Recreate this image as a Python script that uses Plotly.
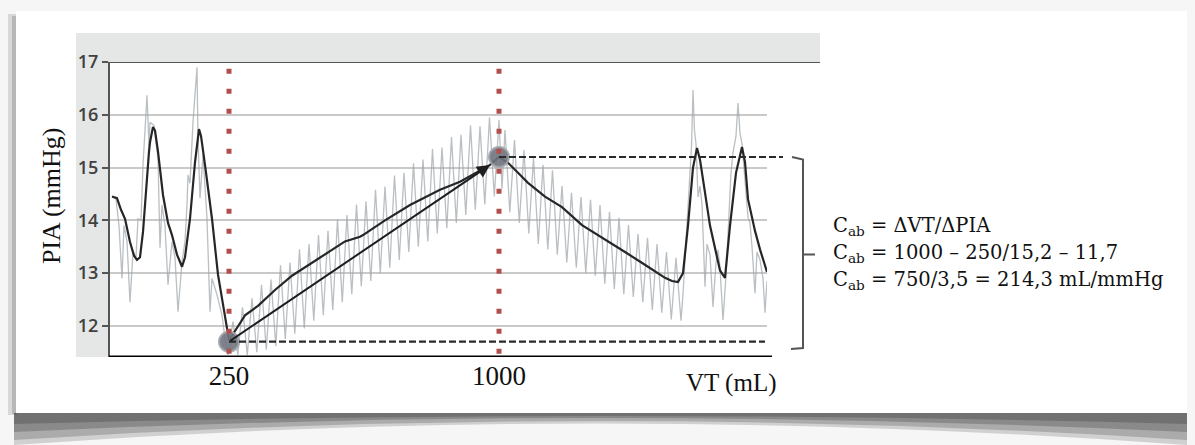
import plotly.graph_objects as go

W, H = 1195, 445

# ---------------- data ----------------
# two marked inspirations: time position, tidal volume label, plateau PIA
event_t = [11.9, 38.9]
event_vt = ["250", "1000"]
event_pia = [11.7, 15.2]
arrow_tip = [38.0, 15.05]

pia_ticks = [12, 13, 14, 15, 16, 17]

# smoothed (mean) PIA trace
mean_t = [0.2, 0.7, 1.1, 1.5, 2.0, 2.4, 2.7, 3.0, 3.3, 3.6, 3.9, 4.0, 4.3, 4.5, 4.8,
          5.3, 5.8, 6.2, 6.7, 7.2, 7.5, 8.0, 8.5, 8.9, 9.1, 9.5, 10.2, 10.8, 11.5, 11.9,
          13.0, 13.5, 14.8, 16.5, 18.2, 21.0, 23.5, 25.0, 25.3, 27.5, 30.0, 33.0, 35.0,
          36.8, 38.0, 38.9,
          39.8, 40.8, 41.8, 43.5, 45.2, 47.2, 49.0, 51.5, 53.8, 55.5, 56.2, 56.8, 57.3,
          57.8, 58.3, 58.7, 59.0, 60.0, 61.0, 61.5, 62.0, 62.6, 63.2, 63.5, 63.8, 64.5,
          65.0, 65.7]
mean_p = [14.45, 14.42, 14.2, 14.03, 13.59, 13.33, 13.25, 13.30, 13.78, 14.6, 15.3, 15.48,
          15.77, 15.7, 15.3, 14.48, 13.95, 13.72, 13.35, 13.12, 13.3, 14.03, 15.1, 15.73,
          15.6, 15.05, 14.03, 12.97, 12.2, 11.73,
          12.05, 12.2, 12.38, 12.68, 12.95, 13.3, 13.6, 13.69, 13.72, 14.0, 14.29, 14.58,
          14.73, 14.92, 15.05, 15.2,
          15.09, 14.9, 14.71, 14.45, 14.25, 13.91, 13.7, 13.40, 13.12, 12.91, 12.85, 12.83,
          13.0, 13.9, 15.0, 15.37, 15.15, 13.9, 13.05, 12.91, 13.9, 14.9, 15.39, 15.1,
          14.4, 13.8, 13.45, 13.02]

# raw PIA signal (grey)
raw_t = [0.2, 0.6, 0.9, 1.2, 1.4, 1.7, 2.0, 2.3, 2.6, 2.8, 3.1, 3.3, 3.7, 3.9, 4.0, 4.4,
         4.8, 5.0, 5.2, 5.5, 5.8, 6.2, 6.5, 6.8, 7.2, 7.5, 7.7, 7.8, 8.0, 8.3, 8.7, 8.8,
         9.0, 9.3, 9.7, 10.0, 10.2, 10.7, 11.2, 11.5, 11.8,
         12.3, 12.78, 13.25, 13.73, 14.2, 14.68, 15.15, 15.63, 16.1, 16.58, 17.05, 17.53,
         18.0, 18.48, 18.95, 19.43, 19.9, 20.38, 20.85, 21.33, 21.8, 22.28, 22.75, 23.23,
         23.7, 24.18, 24.65, 25.13, 25.6, 26.08, 26.55, 27.03, 27.5, 27.98, 28.45, 28.93,
         29.4, 29.88, 30.35, 30.83, 31.3, 31.78, 32.25, 32.73, 33.2, 33.68, 34.15, 34.63,
         35.1, 35.58, 36.05, 36.53, 37.0, 37.48, 37.95, 38.43,
         38.9, 39.2,
         39.5, 39.98, 40.45, 40.93, 41.4, 41.88, 42.35, 42.83, 43.3, 43.78, 44.25, 44.73,
         45.2, 45.68, 46.15, 46.63, 47.1, 47.58, 48.05, 48.53, 49.0, 49.48, 49.95, 50.43,
         50.9, 51.38, 51.85, 52.33, 52.8, 53.28, 53.75, 54.23, 54.7, 55.18, 55.65, 56.13,
         56.6, 57.1,
         57.3, 57.6, 57.8, 58.0, 58.15, 58.3, 58.45, 58.6, 58.8, 59.0, 59.2, 59.5, 59.7,
         60.0, 60.3, 60.6, 60.8, 61.0, 61.3, 61.6, 61.9, 62.1, 62.3, 62.6, 62.8, 63.0,
         63.2, 63.4, 63.6, 63.8, 64.0, 64.2, 64.5, 64.7, 65.0, 65.3, 65.5, 65.7]
raw_p = [14.45, 14.4, 13.9, 12.9, 13.9, 13.6, 12.45, 13.4, 13.3, 14.03, 14.0, 15.05, 16.37,
         15.4, 15.86, 15.8, 15.18, 13.48, 14.29, 13.9, 12.78, 13.59, 13.3, 12.27, 13.21,
         13.6, 14.29, 14.86, 14.7, 15.86, 16.9, 15.56, 14.42, 15.24, 14.03, 12.27, 12.9,
         12.59, 12.2, 11.77, 11.45,
         12.08, 11.45, 12.35, 11.45, 12.52, 11.5, 12.78, 11.55, 12.88, 11.62, 13.15, 11.75,
         13.2, 11.85, 13.45, 11.95, 13.55, 12.1, 13.72, 12.2, 13.8, 12.3, 14.02, 12.45,
         14.1, 12.6, 14.3, 12.75, 14.36, 12.85, 14.58, 13.0, 14.64, 13.1, 14.85, 13.25,
         14.9, 13.4, 15.08, 13.5, 15.15, 13.6, 15.35, 13.75, 15.38, 13.85, 15.58, 13.95,
         15.62, 14.1, 15.8, 14.2, 15.78, 14.3, 15.95, 14.45,
         15.9, 14.6,
         15.71, 14.15, 15.52, 13.95, 15.33, 13.75, 15.18, 13.55, 15.05, 13.45, 14.95, 13.35,
         14.65, 13.2, 14.52, 13.1, 14.44, 13.0, 14.39, 12.95, 14.29, 12.8, 14.16, 12.7,
         14.05, 12.6, 13.91, 12.55, 13.74, 12.45, 13.67, 12.3, 13.55, 12.25, 13.40, 12.12,
         13.29, 12.1,
         12.6, 13.6, 14.33, 14.9, 15.4, 16.47, 15.7, 15.45, 14.44, 14.65, 14.3, 12.74, 13.55,
         13.35, 12.36, 13.2, 13.44, 13.1, 12.11, 12.95, 14.1, 14.9, 15.28, 15.6, 16.22,
         15.65, 15.45, 15.0, 14.4, 14.06, 13.95, 13.5, 12.62, 13.4, 13.25, 12.9, 12.25, 12.85]

formula_lines = [
    "C<sub>ab</sub> = ΔVT/ΔPIA",
    "C<sub>ab</sub> = 1000 – 250/15,2 – 11,7",
    "C<sub>ab</sub> = 750/3,5 = 214,3 mL/mmHg",
]

# ---------------- geometry helpers ----------------
XR = [0.0, 65.7]
YR = [11.41, 17.0]
XD = [110 / W, 767 / W]
YD = [1 - 357 / H, 1 - 62 / H]


def px(x):
    return x / W


def py(y):
    return 1 - y / H


def xt(t):
    return XD[0] + (t - XR[0]) / (XR[1] - XR[0]) * (XD[1] - XD[0])


fig = go.Figure()

fig.add_trace(go.Scatter(x=raw_t, y=raw_p, mode="lines",
                         line=dict(color="rgba(160,166,172,0.72)", width=1.3),
                         hoverinfo="skip", showlegend=False))
fig.add_trace(go.Scatter(x=mean_t, y=mean_p, mode="lines",
                         line=dict(color="#262626", width=2.2),
                         hoverinfo="skip", showlegend=False))
fig.add_trace(go.Scatter(x=event_t, y=event_pia, mode="markers",
                         marker=dict(size=20, color="rgba(112,117,126,0.9)",
                                     line=dict(color="rgba(160,165,172,0.9)", width=2)),
                         hoverinfo="skip", showlegend=False))
for t in event_t:
    fig.add_trace(go.Scatter(x=[t, t], y=[16.87, YR[0]], mode="lines",
                             line=dict(color="#b24f4c", width=5, dash="5px,15px"),
                             hoverinfo="skip", showlegend=False))

shapes = []
# card background and shadows
shapes.append(dict(type="rect", xref="paper", yref="paper", x0=px(8), x1=px(17),
                   y0=py(415), y1=py(14), fillcolor="rgba(0,0,0,0.12)", line_width=0,
                   layer="below"))
shapes.append(dict(type="rect", xref="paper", yref="paper", x0=px(12), x1=px(16),
                   y0=py(414), y1=py(16), fillcolor="rgba(0,0,0,0.15)", line_width=0,
                   layer="below"))
shapes.append(dict(type="rect", xref="paper", yref="paper", x0=px(16), x1=px(1187),
                   y0=py(413), y1=py(11), fillcolor="white", line_width=0, layer="below"))
for ybot, ymid, op in [(445, 402, 0.18), (440, 402, 0.22), (432, 404, 0.25), (424, 408, 0.25)]:
    path = (f"M {px(14)},{py(413)} L {px(1187)},{py(413)} L {px(1187)},{py(ybot)} "
            f"Q {px(600)},{py(ymid)} {px(14)},{py(ybot)} Z")
    shapes.append(dict(type="path", xref="paper", yref="paper", path=path,
                       fillcolor=f"rgba(40,40,40,{op})", line_width=0, layer="below"))
# grey panel frame
shapes.append(dict(type="rect", xref="paper", yref="paper", x0=px(76), x1=px(820),
                   y0=py(62), y1=py(33), fillcolor="#e5e6e6", line_width=0, layer="below"))
shapes.append(dict(type="rect", xref="paper", yref="paper", x0=px(76), x1=px(110),
                   y0=py(357), y1=py(62), fillcolor="#e5e6e6", line_width=0, layer="below"))
# top border line and bottom axis line
shapes.append(dict(type="line", xref="paper", yref="y", x0=px(110), x1=px(820),
                   y0=YR[1], y1=YR[1], line=dict(color="#555555", width=2)))
shapes.append(dict(type="line", xref="paper", yref="y", x0=px(109), x1=px(772),
                   y0=YR[0], y1=YR[0], line=dict(color="#000000", width=3)))
# dashed reference lines at both plateau pressures
shapes.append(dict(type="line", xref="paper", yref="y", x0=xt(event_t[1]), x1=px(783),
                   y0=event_pia[1], y1=event_pia[1],
                   line=dict(color="#2a2a2a", width=2.2, dash="7px,3px")))
shapes.append(dict(type="line", xref="paper", yref="y", x0=xt(event_t[0]), x1=px(765),
                   y0=event_pia[0], y1=event_pia[0],
                   line=dict(color="#2a2a2a", width=2.2, dash="7px,3px")))
# bracket
ymid_b = (event_pia[0] + event_pia[1]) / 2 - 0.1
brk = (f"M {px(792)},{event_pia[1]} L {px(803)},{event_pia[1] - 0.05} "
       f"L {px(803)},11.58 L {px(791)},11.56 "
       f"M {px(803)},{ymid_b} L {px(815)},{ymid_b}")
shapes.append(dict(type="path", xref="paper", yref="y", path=brk,
                   line=dict(color="#555555", width=2)))

annotations = []
annotations.append(dict(x=arrow_tip[0], y=arrow_tip[1], ax=event_t[0], ay=event_pia[0],
                        xref="x", yref="y", axref="x", ayref="y", text="",
                        showarrow=True, arrowhead=2, arrowsize=1.3, arrowwidth=2,
                        arrowcolor="#1e1e1e", standoff=0, startstandoff=0))
annotations.append(dict(x=px(52), y=py(195), xref="paper", yref="paper",
                        text="PIA (mmHg)", textangle=-90, showarrow=False,
                        font=dict(family="Liberation Serif", size=26, color="#111111"),
                        xanchor="center", yanchor="middle"))
annotations.append(dict(x=px(731), y=py(383), xref="paper", yref="paper",
                        text="VT (mL)", showarrow=False,
                        font=dict(family="Liberation Serif", size=25, color="#111111"),
                        xanchor="center", yanchor="middle"))
for i, line in enumerate(formula_lines):
    annotations.append(dict(x=px(831), y=py(226 + 27 * i), xref="paper", yref="paper",
                            text=line, showarrow=False, align="left",
                            font=dict(family="DejaVu Serif", size=19.5, color="#111111"),
                            xanchor="left", yanchor="middle"))

fig.update_layout(
    width=W, height=H, autosize=False,
    margin=dict(l=0, r=0, t=0, b=0, pad=0, autoexpand=False),
    paper_bgcolor="#f6f6f6", plot_bgcolor="white",
    shapes=shapes, annotations=annotations, showlegend=False,
    xaxis=dict(domain=XD, range=XR, showgrid=False, zeroline=False, showline=False,
               automargin=False,
               tickmode="array", tickvals=event_t, ticktext=event_vt,
               ticks="", ticklen=0,
               tickfont=dict(family="Liberation Serif", size=27, color="#111111"),
               fixedrange=True),
    yaxis=dict(domain=YD, range=YR, showgrid=True, gridcolor="#c9c9c9", gridwidth=1.5,
               automargin=False,
               zeroline=False, showline=True, linecolor="#555555", linewidth=2,
               tickmode="array", tickvals=pia_ticks,
               ticks="outside", ticklen=6, tickwidth=1.5, tickcolor="#555555",
               tickfont=dict(family="Open Sans", size=18, color="#404040", weight=600),
               fixedrange=True),
)

fig.write_html("out.html", config={"displayModeBar": False},
               post_script="document.body.style.margin='0px';")
